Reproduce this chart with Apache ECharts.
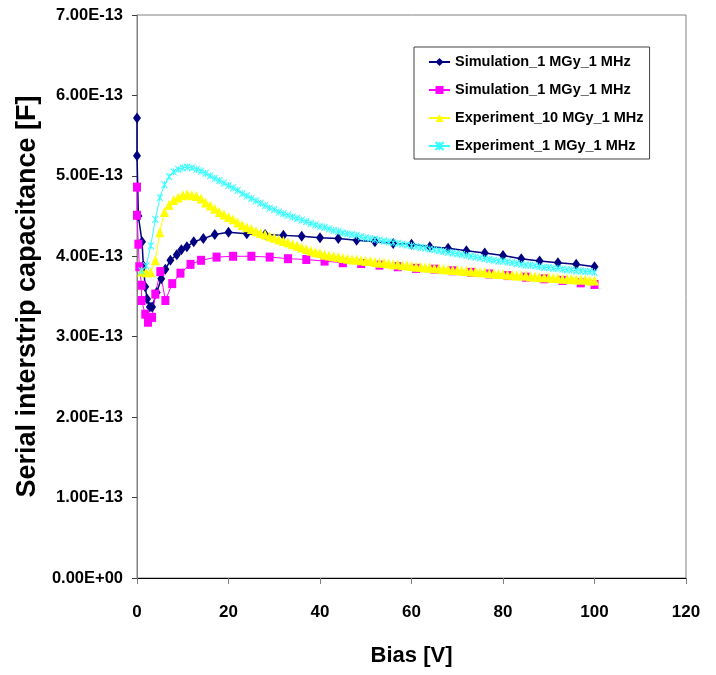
<!DOCTYPE html>
<html>
<head>
<meta charset="utf-8">
<script src="https://cdn.jsdelivr.net/npm/echarts@6/dist/echarts.min.js"></script>
<style>
  html, body { margin: 0; padding: 0; background: #ffffff; }
  #chart { width: 716px; height: 675px; }
</style>
</head>
<body>
<div id="chart"></div>
<script>
// Capacitance values are given in units of 1e-13 F.
const yTickLabels = ['0.00E+00', '1.00E-13', '2.00E-13', '3.00E-13', '4.00E-13', '5.00E-13', '6.00E-13', '7.00E-13'];

// Simulation, 1 MGy, 1 MHz (navy diamonds)
const simAX = [0, 0, 0.3, 1.1, 1.4, 1.8, 2.2, 2.8, 3.3, 4.3, 5.3, 6.2, 7.3, 8.7, 9.7, 10.9, 12.4, 14.5, 17,
  20, 24, 28, 32, 36, 40, 44, 48, 52, 56, 60, 64, 68, 72, 76, 80, 84, 88, 92, 96, 100];
const simAY = [5.72, 5.25, 4.50, 4.18, 3.88, 3.62, 3.47, 3.37, 3.37, 3.55, 3.72, 3.84, 3.95, 4.02, 4.08, 4.12, 4.18, 4.22, 4.27,
  4.30, 4.28, 4.27, 4.26, 4.25, 4.23, 4.22, 4.20, 4.18, 4.16, 4.15, 4.12, 4.10, 4.07, 4.04, 4.01, 3.97, 3.94, 3.92, 3.90, 3.87];

// Simulation, 1 MGy, 1 MHz (magenta squares)
const simBX = [0, 0, 0.3, 0.5, 1, 1, 1.8, 2.4, 3.3, 4, 5.1, 6.2, 7.7, 9.5, 11.7, 14, 17.4,
  21, 25, 29, 33, 37, 41, 45, 49, 53, 57, 61, 65, 69, 73, 77, 81, 85, 89, 93, 97, 100];
const simBY = [4.86, 4.51, 4.15, 3.87, 3.64, 3.45, 3.28, 3.18, 3.24, 3.53, 3.81, 3.45, 3.66, 3.79, 3.90, 3.95, 3.99,
  4.00, 4.00, 3.99, 3.97, 3.96, 3.94, 3.92, 3.91, 3.89, 3.87, 3.85, 3.84, 3.82, 3.80, 3.78, 3.76, 3.74, 3.72, 3.70, 3.67, 3.65];

// Measured bias steps (V)
const expX = [1, 2, 3, 4, 5, 6, 7, 8, 9, 10, 11, 12, 13, 14, 15, 16, 17, 18, 19, 20,
  21, 22, 23, 24, 25, 26, 27, 28, 29, 30, 31, 32, 33, 34, 35, 36, 37, 38, 39, 40,
  41, 42, 43, 44, 45, 46, 47, 48, 49, 50, 51, 52, 53, 54, 55, 56, 57, 58, 59, 60,
  61, 62, 63, 64, 65, 66, 67, 68, 69, 70, 71, 72, 73, 74, 75, 76, 77, 78, 79, 80,
  81, 82, 83, 84, 85, 86, 87, 88, 89, 90, 91, 92, 93, 94, 95, 96, 97, 98, 99, 100];

// Experiment, 10 MGy, 1 MHz (yellow triangles)
const exp10Y = [3.81, 3.80, 3.80, 3.95, 4.30, 4.55, 4.64, 4.70, 4.73, 4.76,
  4.77, 4.76, 4.75, 4.72, 4.67, 4.63, 4.59, 4.55, 4.52, 4.49,
  4.46, 4.42, 4.39, 4.36, 4.34, 4.31, 4.29, 4.27, 4.25, 4.23,
  4.21, 4.19, 4.17, 4.15, 4.13, 4.11, 4.09, 4.07, 4.05, 4.04,
  4.02, 4.01, 4.00, 3.99, 3.98, 3.97, 3.96, 3.96, 3.95, 3.94,
  3.94, 3.93, 3.92, 3.92, 3.91, 3.90, 3.90, 3.89, 3.89, 3.88,
  3.87, 3.87, 3.86, 3.86, 3.85, 3.85, 3.84, 3.84, 3.83, 3.83,
  3.82, 3.82, 3.81, 3.81, 3.80, 3.80, 3.79, 3.79, 3.78, 3.78,
  3.77, 3.77, 3.76, 3.76, 3.76, 3.75, 3.75, 3.74, 3.74, 3.74,
  3.73, 3.73, 3.72, 3.72, 3.72, 3.71, 3.71, 3.71, 3.70, 3.70];

// Experiment, 1 MGy, 1 MHz (cyan crosses)
const exp1Y = [3.82, 3.88, 4.13, 4.46, 4.73, 4.89, 4.99, 5.05, 5.08, 5.10,
  5.11, 5.10, 5.08, 5.06, 5.03, 5.00, 4.97, 4.94, 4.91, 4.88,
  4.85, 4.82, 4.78, 4.75, 4.72, 4.69, 4.66, 4.63, 4.60, 4.58,
  4.55, 4.53, 4.51, 4.49, 4.47, 4.45, 4.43, 4.41, 4.39, 4.37,
  4.36, 4.34, 4.32, 4.31, 4.29, 4.28, 4.27, 4.26, 4.24, 4.23,
  4.22, 4.21, 4.20, 4.19, 4.18, 4.17, 4.16, 4.15, 4.14, 4.13,
  4.12, 4.11, 4.10, 4.09, 4.08, 4.07, 4.06, 4.05, 4.04, 4.03,
  4.02, 4.01, 4.00, 3.99, 3.98, 3.97, 3.96, 3.95, 3.94, 3.94,
  3.93, 3.92, 3.91, 3.90, 3.89, 3.89, 3.88, 3.87, 3.86, 3.86,
  3.85, 3.85, 3.84, 3.83, 3.83, 3.82, 3.82, 3.81, 3.81, 3.80];

const seriesNames = ['Simulation_1 MGy_1 MHz', 'Simulation_1 MGy_1 MHz ', 'Experiment_10 MGy_1 MHz', 'Experiment_1 MGy_1 MHz'];

const FONT = "'Liberation Sans', Arial, sans-serif";
const pairs = (xs, ys) => xs.map((x, i) => [x, ys[i]]);

const chart = echarts.init(document.getElementById('chart'), null, { renderer: 'canvas' });

chart.setOption({
  animation: false,
  backgroundColor: '#ffffff',
  grid: {
    left: 137, right: 30, top: 15, bottom: 97,
    show: true, borderColor: '#808080', borderWidth: 1, backgroundColor: 'transparent'
  },
  legend: {
    orient: 'vertical',
    left: 414, top: 47,
    padding: [6, 6, 4, 14],
    itemGap: 10,
    itemWidth: 21, itemHeight: 10,
    borderColor: '#404040', borderWidth: 1,
    backgroundColor: '#ffffff',
    textStyle: { fontFamily: FONT, fontWeight: 'bold', fontSize: 14.5, color: '#000', lineHeight: 18 },
    data: seriesNames
  },
  xAxis: {
    type: 'value',
    min: 0, max: 120, interval: 20,
    name: 'Bias [V]',
    nameLocation: 'middle',
    nameGap: 67,
    nameTextStyle: { fontFamily: FONT, fontWeight: 'bold', fontSize: 22, color: '#000' },
    axisLine: { show: true, onZero: false, lineStyle: { color: '#000', width: 1 } },
    axisTick: { show: true, inside: false, length: 6, lineStyle: { color: '#808080' } },
    axisLabel: { margin: 26, fontFamily: FONT, fontWeight: 'bold', fontSize: 17, color: '#000' },
    splitLine: { show: false }
  },
  yAxis: {
    type: 'value',
    min: 0, max: 7, interval: 1,
    name: 'Serial interstrip capacitance [F]',
    nameLocation: 'middle',
    nameGap: 95,
    nameTextStyle: { fontFamily: FONT, fontWeight: 'bold', fontSize: 27, color: '#000' },
    axisLine: { show: true, lineStyle: { color: '#808080', width: 1 } },
    axisTick: { show: true, inside: false, length: 5, lineStyle: { color: '#404040' } },
    axisLabel: {
      margin: 14, fontFamily: FONT, fontWeight: 'bold', fontSize: 16.5, color: '#000',
      formatter: v => yTickLabels[Math.round(v)]
    },
    splitLine: { show: false }
  },
  series: [
    {
      name: seriesNames[0], type: 'line',
      data: pairs(simAX, simAY),
      symbol: 'diamond', symbolSize: [8, 11],
      itemStyle: { color: '#000080' },
      lineStyle: { color: '#000080', width: 1.5 }
    },
    {
      name: seriesNames[1], type: 'line',
      data: pairs(simBX, simBY),
      symbol: 'rect', symbolSize: [8, 9],
      itemStyle: { color: '#ff00ff' },
      lineStyle: { color: '#ff00ff', width: 1 }
    },
    {
      name: seriesNames[2], type: 'line',
      data: pairs(expX, exp10Y),
      symbol: 'triangle', symbolSize: [9, 10],
      itemStyle: { color: '#ffff00' },
      lineStyle: { color: '#ffff00', width: 1 }
    },
    {
      name: seriesNames[3], type: 'line',
      data: pairs(expX, exp1Y),
      symbol: 'path://M0,0L10,10M10,0L0,10M5,0L5,10', symbolSize: [6, 7],
      itemStyle: { color: '#33ffff', borderColor: '#33ffff', borderWidth: 1 },
      lineStyle: { color: '#33ffff', width: 1 }
    }
  ]
});
</script>
</body>
</html>
